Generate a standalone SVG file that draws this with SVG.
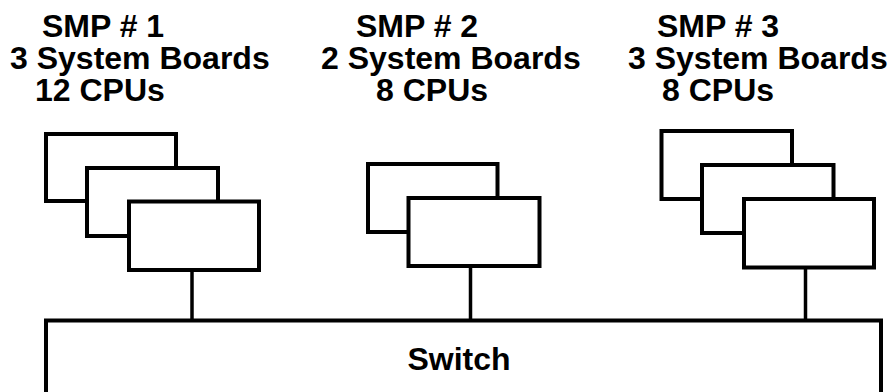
<svg xmlns="http://www.w3.org/2000/svg" width="894" height="392" viewBox="0 0 894 392">
<style>
.lbl{font-family:"Liberation Sans",Arial,sans-serif;font-weight:bold;font-size:32px;fill:#000}
.bd{fill:#fff;stroke:#000;stroke-width:4}
.cn{stroke:#000;stroke-width:3.5;fill:none}
</style>
<rect width="894" height="392" fill="#fff"/>
<g id="connectors">
<line class="cn" x1="192" y1="270" x2="192" y2="320"/>
<line class="cn" x1="470.5" y1="266" x2="470.5" y2="320"/>
<line class="cn" x1="805.5" y1="267" x2="805.5" y2="320"/>
</g>
<g id="smp1">
<text class="lbl" x="42" y="37">SMP # 1</text>
<text class="lbl" x="10" y="69">3 System Boards</text>
<text class="lbl" x="35" y="101">12 CPUs</text>
<rect class="bd" x="46" y="134" width="130" height="67"/>
<rect class="bd" x="87" y="168" width="131" height="68"/>
<rect class="bd" x="129" y="201.5" width="130" height="68.5"/>
</g>
<g id="smp2">
<text class="lbl" x="356" y="37">SMP # 2</text>
<text class="lbl" x="321" y="69">2 System Boards</text>
<text class="lbl" x="376" y="101">8 CPUs</text>
<rect class="bd" x="368" y="164" width="129.5" height="68"/>
<rect class="bd" x="408.5" y="198" width="131" height="68"/>
</g>
<g id="smp3">
<text class="lbl" x="657" y="37">SMP # 3</text>
<text class="lbl" x="628" y="69">3 System Boards</text>
<text class="lbl" x="662" y="101">8 CPUs</text>
<rect class="bd" x="661.5" y="131" width="130.5" height="68"/>
<rect class="bd" x="702" y="165" width="131.5" height="68"/>
<rect class="bd" x="744" y="199" width="130" height="68.5"/>
</g>
<g id="switch">
<rect class="bd" x="46" y="320.5" width="835" height="90"/>
<text class="lbl" x="459" y="370" text-anchor="middle">Switch</text>
</g>
</svg>
